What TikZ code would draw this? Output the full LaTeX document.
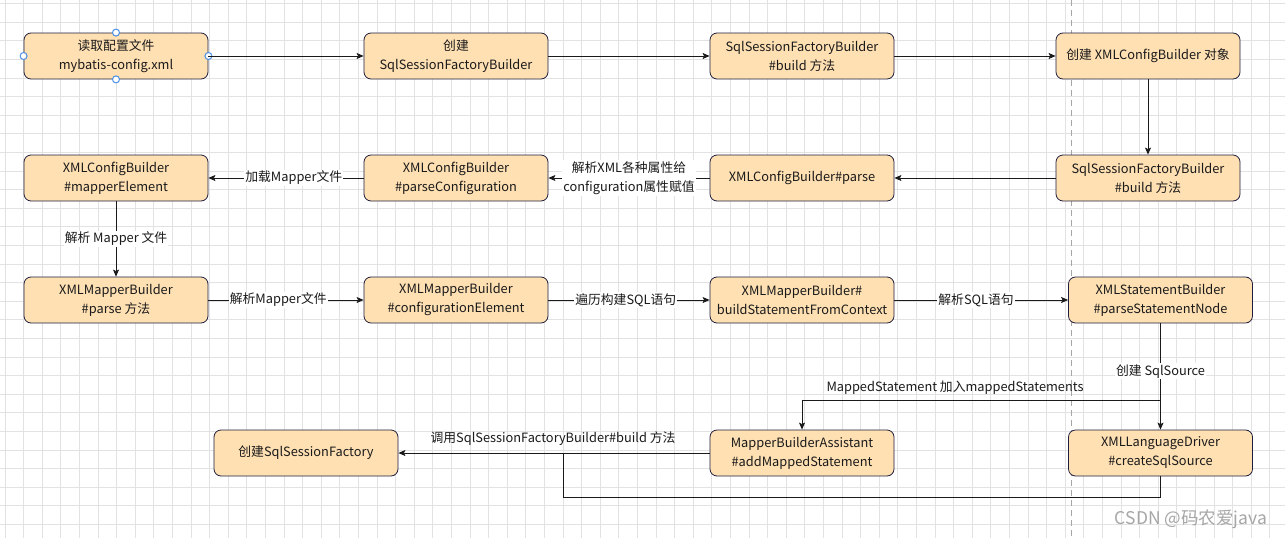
\documentclass[tikz,border=0pt]{standalone}
\usepackage{fontspec}
\setmainfont{Noto Sans CJK SC}
\usetikzlibrary{arrows.meta}
\definecolor{boxfill}{HTML}{FFE0B3}
\definecolor{boxdraw}{HTML}{1F1F3D}
\definecolor{gridc}{HTML}{E2E2E2}
\definecolor{handle}{HTML}{4A90E2}
\definecolor{ink}{HTML}{1A1A1A}
\definecolor{wmark}{HTML}{A6A6A6}
\begin{document}
\begin{tikzpicture}[x=1pt,y=-1pt,
  box/.style={draw=boxdraw, fill=boxfill, rounded corners=7pt, minimum width=184pt, minimum height=46pt, align=center, font=\fontsize{12.8pt}{19pt}\selectfont, text=ink, inner sep=0pt, line width=0.8pt},
  link/.style={draw=ink, line width=0.8pt, -{Stealth[length=7pt,width=6pt,inset=1.5pt]}},
  plain/.style={draw=ink, line width=0.8pt},
  lab/.style={fill=white, inner sep=1pt, font=\fontsize{12.8pt}{19pt}\selectfont, text=ink, align=center},
  gridline/.style={draw=gridc, line width=0.7pt},
  handlecirc/.style={circle, draw=handle, fill=white, line width=1pt, minimum size=7pt, inner sep=0pt},
]
\useasboundingbox (0,0) rectangle (1285,538);
\fill[white] (0,0) rectangle (1285,538);
% grid
\foreach \i in {0,...,68} \draw[gridline] ({5+\i*18.6},0) -- ({5+\i*18.6},538);
\foreach \j in {0,...,28} \draw[gridline] (0,{3.5+\j*18.6}) -- (1285,{3.5+\j*18.6});
% page break line
\draw[draw=black!35, line width=0.7pt, dash pattern=on 6pt off 4pt] (1071,0) -- (1071,538);

% nodes
\node[box] (A1) at (116,56) {读取配置文件\\mybatis-config.xml};
\node[box] (A2) at (456,56) {创建\\SqlSessionFactoryBuilder};
\node[box] (A3) at (802,56) {SqlSessionFactoryBuilder\\\#build 方法};
\node[box] (A4) at (1148,56) {创建 XMLConfigBuilder 对象};

\node[box] (B1) at (116,178) {XMLConfigBuilder\\\#mapperElement};
\node[box] (B2) at (456,178) {XMLConfigBuilder\\\#parseConfiguration};
\node[box] (B3) at (802,178) {XMLConfigBuilder\#parse};
\node[box] (B4) at (1148,178) {SqlSessionFactoryBuilder\\\#build 方法};

\node[box] (C1) at (116,300) {XMLMapperBuilder\\\#parse 方法};
\node[box] (C2) at (456,300) {XMLMapperBuilder\\\#configurationElement};
\node[box] (C3) at (802,300) {XMLMapperBuilder\#\\buildStatementFromContext};
\node[box] (C4) at (1160.5,300) {XMLStatementBuilder\\\#parseStatementNode};

\node[box] (D1) at (306,453) {创建SqlSessionFactory};
\node[box] (D2) at (802,453) {MapperBuilderAssistant\\\#addMappedStatement};
\node[box] (D3) at (1160.5,453) {XMLLanguageDriver\\\#createSqlSource};

% selection handles on A1
\node[handlecirc] (h1) at (A1.north) {};
\node[handlecirc] (h2) at (A1.south) {};
\node[handlecirc] (h3) at (A1.west) {};
\node[handlecirc] (h4) at (A1.east) {};

% row 1
\draw[link] (A1.east) -- (A2.west);
\draw[link] (A2.east) -- (A3.west);
\draw[link] (A3.east) -- (A4.west);
\draw[link] (A4.south) -- (B4.north);

% row 2
\draw[link] (B4.west) -- (B3.east);
\draw[link] (B3.west) -- (B2.east) node[lab, pos=0.5] {解析XML各种属性给\\configuration属性赋值};
\draw[link] (B2.west) -- (B1.east) node[lab, pos=0.45] {加载Mapper文件};
\draw[link] (B1.south) -- (C1.north) node[lab, pos=0.5] {解析 Mapper 文件};

% row 3
\draw[link] (C1.east) -- (C2.west) node[lab, pos=0.45] {解析Mapper文件};
\draw[link] (C2.east) -- (C3.west) node[lab, pos=0.48] {遍历构建SQL语句};
\draw[link] (C3.east) -- (C4.west) node[lab, pos=0.47] {解析SQL语句};

% row 4
\coordinate (br) at (1160.5,400);
\draw[link] (C4.south) -- (D3.north) node[lab, pos=0.45] {创建 SqlSource};
\draw[link] (br) -| (D2.north);
\node[lab, fill=none] (lblms) at (955,388) {MappedStatement 加入mappedStatements};

\draw[link] (D2.west) -- (D1.east);
\node[lab, fill=none] (lblcall) at (553,439) {调用SqlSessionFactoryBuilder\#build 方法};
\coordinate (d3b) at (1160.5,497);
\coordinate (mj) at (563,497);
\draw[plain] (D3.south) -- (d3b) -- (mj) -- (563,453);

% watermark
\node[font=\fontsize{17.5pt}{17.5pt}\selectfont, text=wmark, inner sep=0pt] (wm) at (1191,519) {CSDN @码农爱java};
\end{tikzpicture}
\end{document}
